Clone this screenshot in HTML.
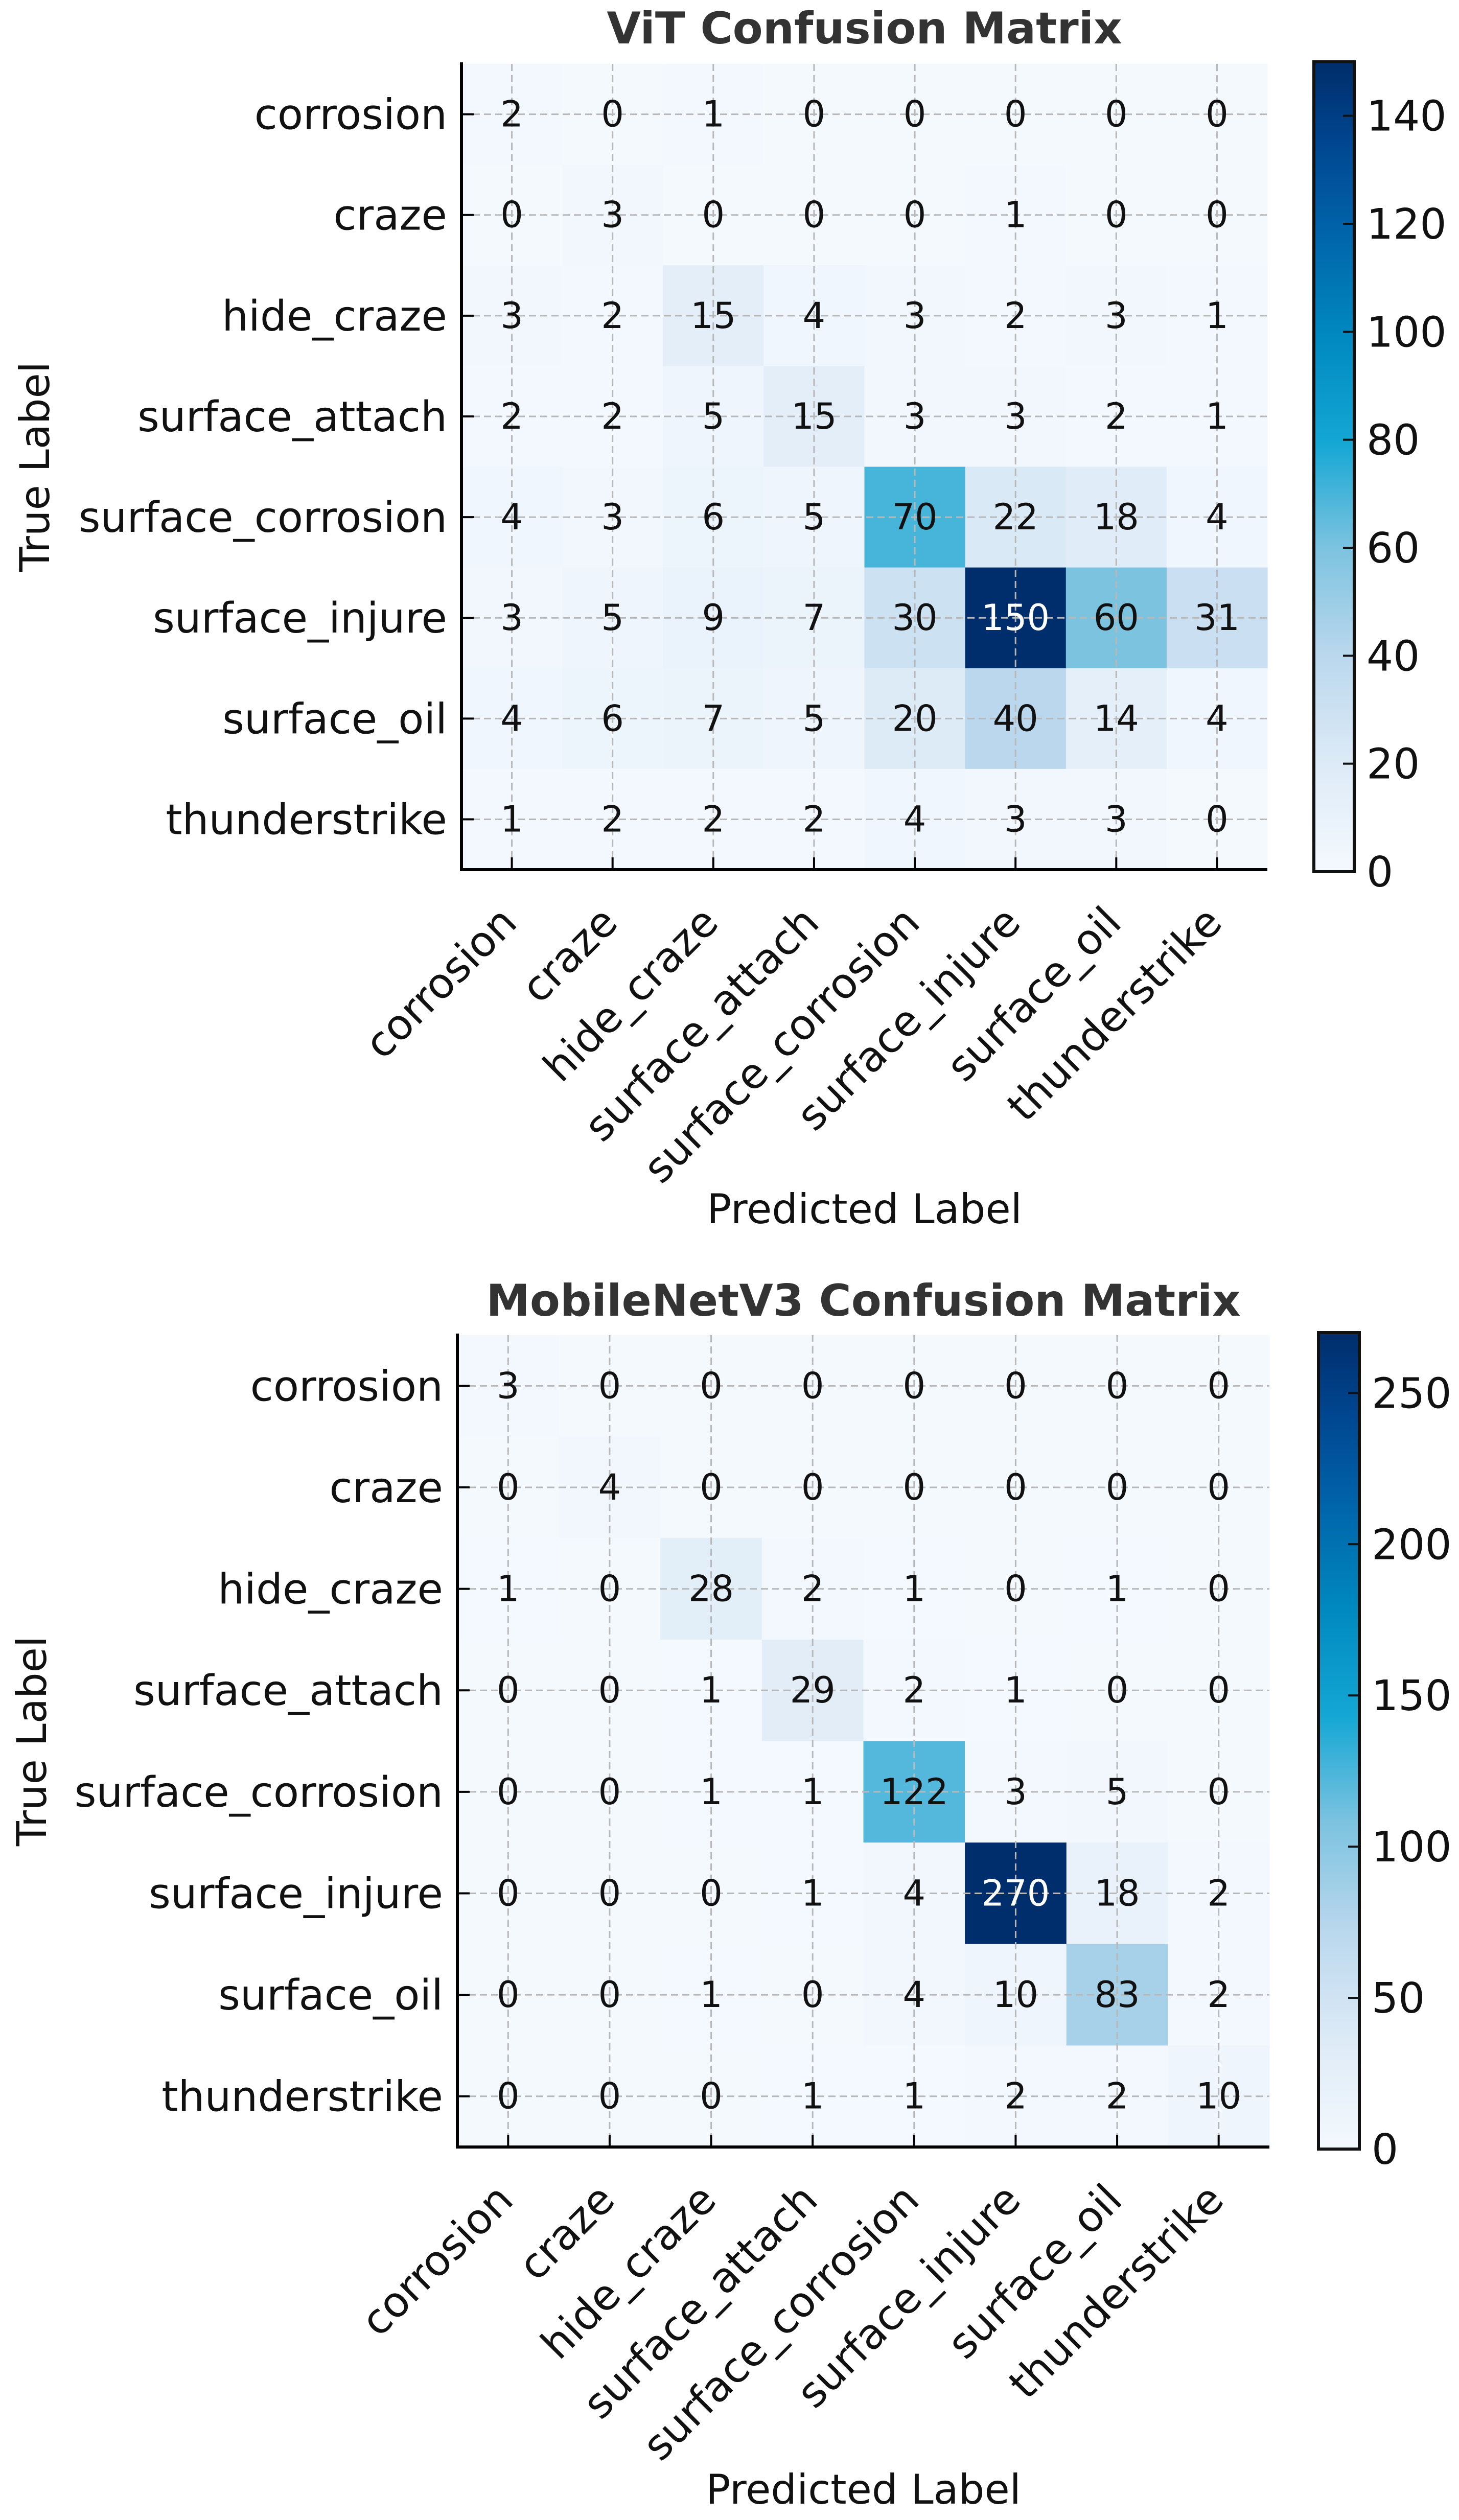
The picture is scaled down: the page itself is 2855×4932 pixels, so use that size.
<!DOCTYPE html>
<html><head><meta charset="utf-8"><title>Confusion Matrices</title>
<style>
html,body{margin:0;padding:0;background:#fff;}
svg{display:block;font-family:"DejaVu Sans","Liberation Sans",sans-serif;}
</style></head>
<body>
<svg id="fig" xmlns="http://www.w3.org/2000/svg" width="2855" height="4932" viewBox="0 0 2855 4932">
<rect x="0" y="0" width="2855" height="4932" fill="#fff"/>
<defs id="defs"></defs>
</svg>
<script>
const classLabels = ["corrosion","craze","hide_craze","surface_attach","surface_corrosion","surface_injure","surface_oil","thunderstrike"];
const vitMatrix = [
  [2,0,1,0,0,0,0,0],
  [0,3,0,0,0,1,0,0],
  [3,2,15,4,3,2,3,1],
  [2,2,5,15,3,3,2,1],
  [4,3,6,5,70,22,18,4],
  [3,5,9,7,30,150,60,31],
  [4,6,7,5,20,40,14,4],
  [1,2,2,2,4,3,3,0]
];
const mobileMatrix = [
  [3,0,0,0,0,0,0,0],
  [0,4,0,0,0,0,0,0],
  [1,0,28,2,1,0,1,0],
  [0,0,1,29,2,1,0,0],
  [0,0,1,1,122,3,5,0],
  [0,0,0,1,4,270,18,2],
  [0,0,1,0,4,10,83,2],
  [0,0,0,1,1,2,2,10]
];
const vitCbarTicks = [0,20,40,60,80,100,120,140];
const mobileCbarTicks = [0,50,100,150,200,250];
const vitTitle = "ViT Confusion Matrix";
const mobileTitle = "MobileNetV3 Confusion Matrix";

const NS = "http://www.w3.org/2000/svg";
const svg = document.getElementById('fig');
const defs = document.getElementById('defs');

const cmapStops = [[0,'#f4f9fe'],[0.13,'#deebf7'],[0.27,'#b9d7ed'],[0.4,'#7cc3e0'],[0.53,'#14a7d4'],[0.66,'#0089c0'],[0.8,'#0061a8'],[0.9,'#004690'],[1,'#002d6b']];
function hex2rgb(h){return [parseInt(h.substr(1,2),16),parseInt(h.substr(3,2),16),parseInt(h.substr(5,2),16)];}
function cmap(t){
  t=Math.max(0,Math.min(1,t));
  for(let i=1;i<cmapStops.length;i++){
    if(t<=cmapStops[i][0]){
      const a=cmapStops[i-1],b=cmapStops[i];
      const f=(t-a[0])/(b[0]-a[0]);
      const ca=hex2rgb(a[1]),cb=hex2rgb(b[1]);
      return 'rgb('+ca.map((v,k)=>Math.round(v+(cb[k]-v)*f)).join(',')+')';
    }
  }
  return cmapStops[cmapStops.length-1][1];
}
function mk(tag,attrs,parent){
  const e=document.createElementNS(NS,tag);
  for(const k in attrs) e.setAttribute(k,attrs[k]);
  (parent||svg).appendChild(e);
  return e;
}

function drawChart(cfg, matrix, cbarTicks, title, key){
  const n = classLabels.length;
  const cell = cfg.size / n;
  const vmax = cfg.vmax;
  const xPos = i => cfg.left + (i+0.5)*cell;
  const yPos = i => cfg.top + (i+0.5)*cell;
  const g = mk('g',{});
  
  

  // cells
  for(let r=0;r<n;r++){
    for(let c=0;c<n;c++){
      const rect = mk('rect',{x:cfg.left+c*cell,y:cfg.top+r*cell,width:cell+0.6,height:cell+0.6,fill:cmap(matrix[r][c]/vmax)},g);
      
      
    }
  }
  // grid
  for(let i=0;i<n;i++){
    const gl = mk('line',{x1:xPos(i),x2:xPos(i),y1:cfg.top,y2:cfg.top+cfg.size,stroke:'#b8b8b8','stroke-width':3,'stroke-dasharray':'14 8'},g);
    
    
    const gh = mk('line',{x1:cfg.left,x2:cfg.left+cfg.size,y1:yPos(i),y2:yPos(i),stroke:'#b8b8b8','stroke-width':3,'stroke-dasharray':'14 8'},g);
    
    
  }
  // annotations
  for(let r=0;r<n;r++){
    for(let c=0;c<n;c++){
      const v = matrix[r][c];
      const t = mk('text',{x:xPos(c),y:yPos(r)+24,'text-anchor':'middle','font-size':70,fill:(v>vmax/2?'#fff':'#111')},g);
      t.textContent = v;
      
      
    }
  }
  // spines
  const sl = mk('line',{x1:cfg.left,x2:cfg.left,y1:cfg.top-3,y2:cfg.top+cfg.size+3,stroke:'#000','stroke-width':6},g);
  
  
  const sb = mk('line',{x1:cfg.left-3,x2:cfg.left+cfg.size,y1:cfg.top+cfg.size,y2:cfg.top+cfg.size,stroke:'#000','stroke-width':6},g);
  
  
  // ticks & labels
  for(let i=0;i<n;i++){
    mk('line',{x1:cfg.left,x2:cfg.left+24,y1:yPos(i),y2:yPos(i),stroke:'#000','stroke-width':4},g);
    mk('line',{x1:xPos(i),x2:xPos(i),y1:cfg.top+cfg.size,y2:cfg.top+cfg.size-24,stroke:'#000','stroke-width':4},g);
    const yl = mk('text',{x:cfg.left-28,y:yPos(i)+29,'text-anchor':'end','font-size':82,fill:'#111'},g);
    yl.textContent = classLabels[i];
    
    
    const ax = xPos(i)+14, ay = cfg.top+cfg.size+108;
    const xl = mk('text',{x:ax,y:ay,'text-anchor':'end','font-size':82,fill:'#111',transform:'rotate(-45 '+ax+' '+ay+')'},g);
    xl.textContent = classLabels[i];
    
    
  }
  // title
  const tt = mk('text',{x:cfg.left+cfg.size/2,y:cfg.titleY,'text-anchor':'middle','font-size':86,'font-weight':'bold',fill:'#333'},g);
  tt.textContent = title;
  
  
  // axis titles
  const cy = cfg.top+cfg.size/2;
  const yt = mk('text',{x:cfg.ylabelX,y:cy,'text-anchor':'middle','font-size':80,fill:'#111',transform:'rotate(-90 '+cfg.ylabelX+' '+cy+')'},g);
  yt.textContent = 'True Label';
  
  
  const xt = mk('text',{x:cfg.left+cfg.size/2,y:cfg.xlabelY,'text-anchor':'middle','font-size':80,fill:'#111'},g);
  xt.textContent = 'Predicted Label';
  
  

  // colorbar
  const grad = mk('linearGradient',{id:'grad-'+key,x1:0,y1:1,x2:0,y2:0},defs);
  cmapStops.forEach(s=>mk('stop',{offset:s[0],'stop-color':s[1]},grad));
  const cb = mk('rect',{x:cfg.cbX,y:cfg.cbTop,width:cfg.cbW,height:cfg.cbBot-cfg.cbTop,fill:'url(#grad-'+key+')',stroke:'#111','stroke-width':6},g);
  
  
  const cbY = v => cfg.cbBot - v/vmax*(cfg.cbBot-cfg.cbTop);
  cbarTicks.forEach(v=>{
    const y=cbY(v);
    if(v>0) mk('line',{x1:cfg.cbX+cfg.cbW-22,x2:cfg.cbX+cfg.cbW,y1:y,y2:y,stroke:'#111','stroke-width':4},g);
    const tl = mk('text',{x:cfg.cbX+cfg.cbW+24,y:y+29,'font-size':82,fill:'#111'},g);
    tl.textContent = v;
    
    
  });
}

drawChart({left:903,top:125,size:1577,vmax:150,titleY:85,ylabelX:96,xlabelY:2394,cbX:2571,cbW:79,cbTop:121,cbBot:1706},
  vitMatrix, vitCbarTicks, vitTitle, 'vit');
drawChart({left:895,top:2613,size:1589,vmax:270,titleY:2575,ylabelX:90,xlabelY:4900,cbX:2580,cbW:80,cbTop:2608,cbBot:4206},
  mobileMatrix, mobileCbarTicks, mobileTitle, 'mobilenet');
</script>
</body></html>
